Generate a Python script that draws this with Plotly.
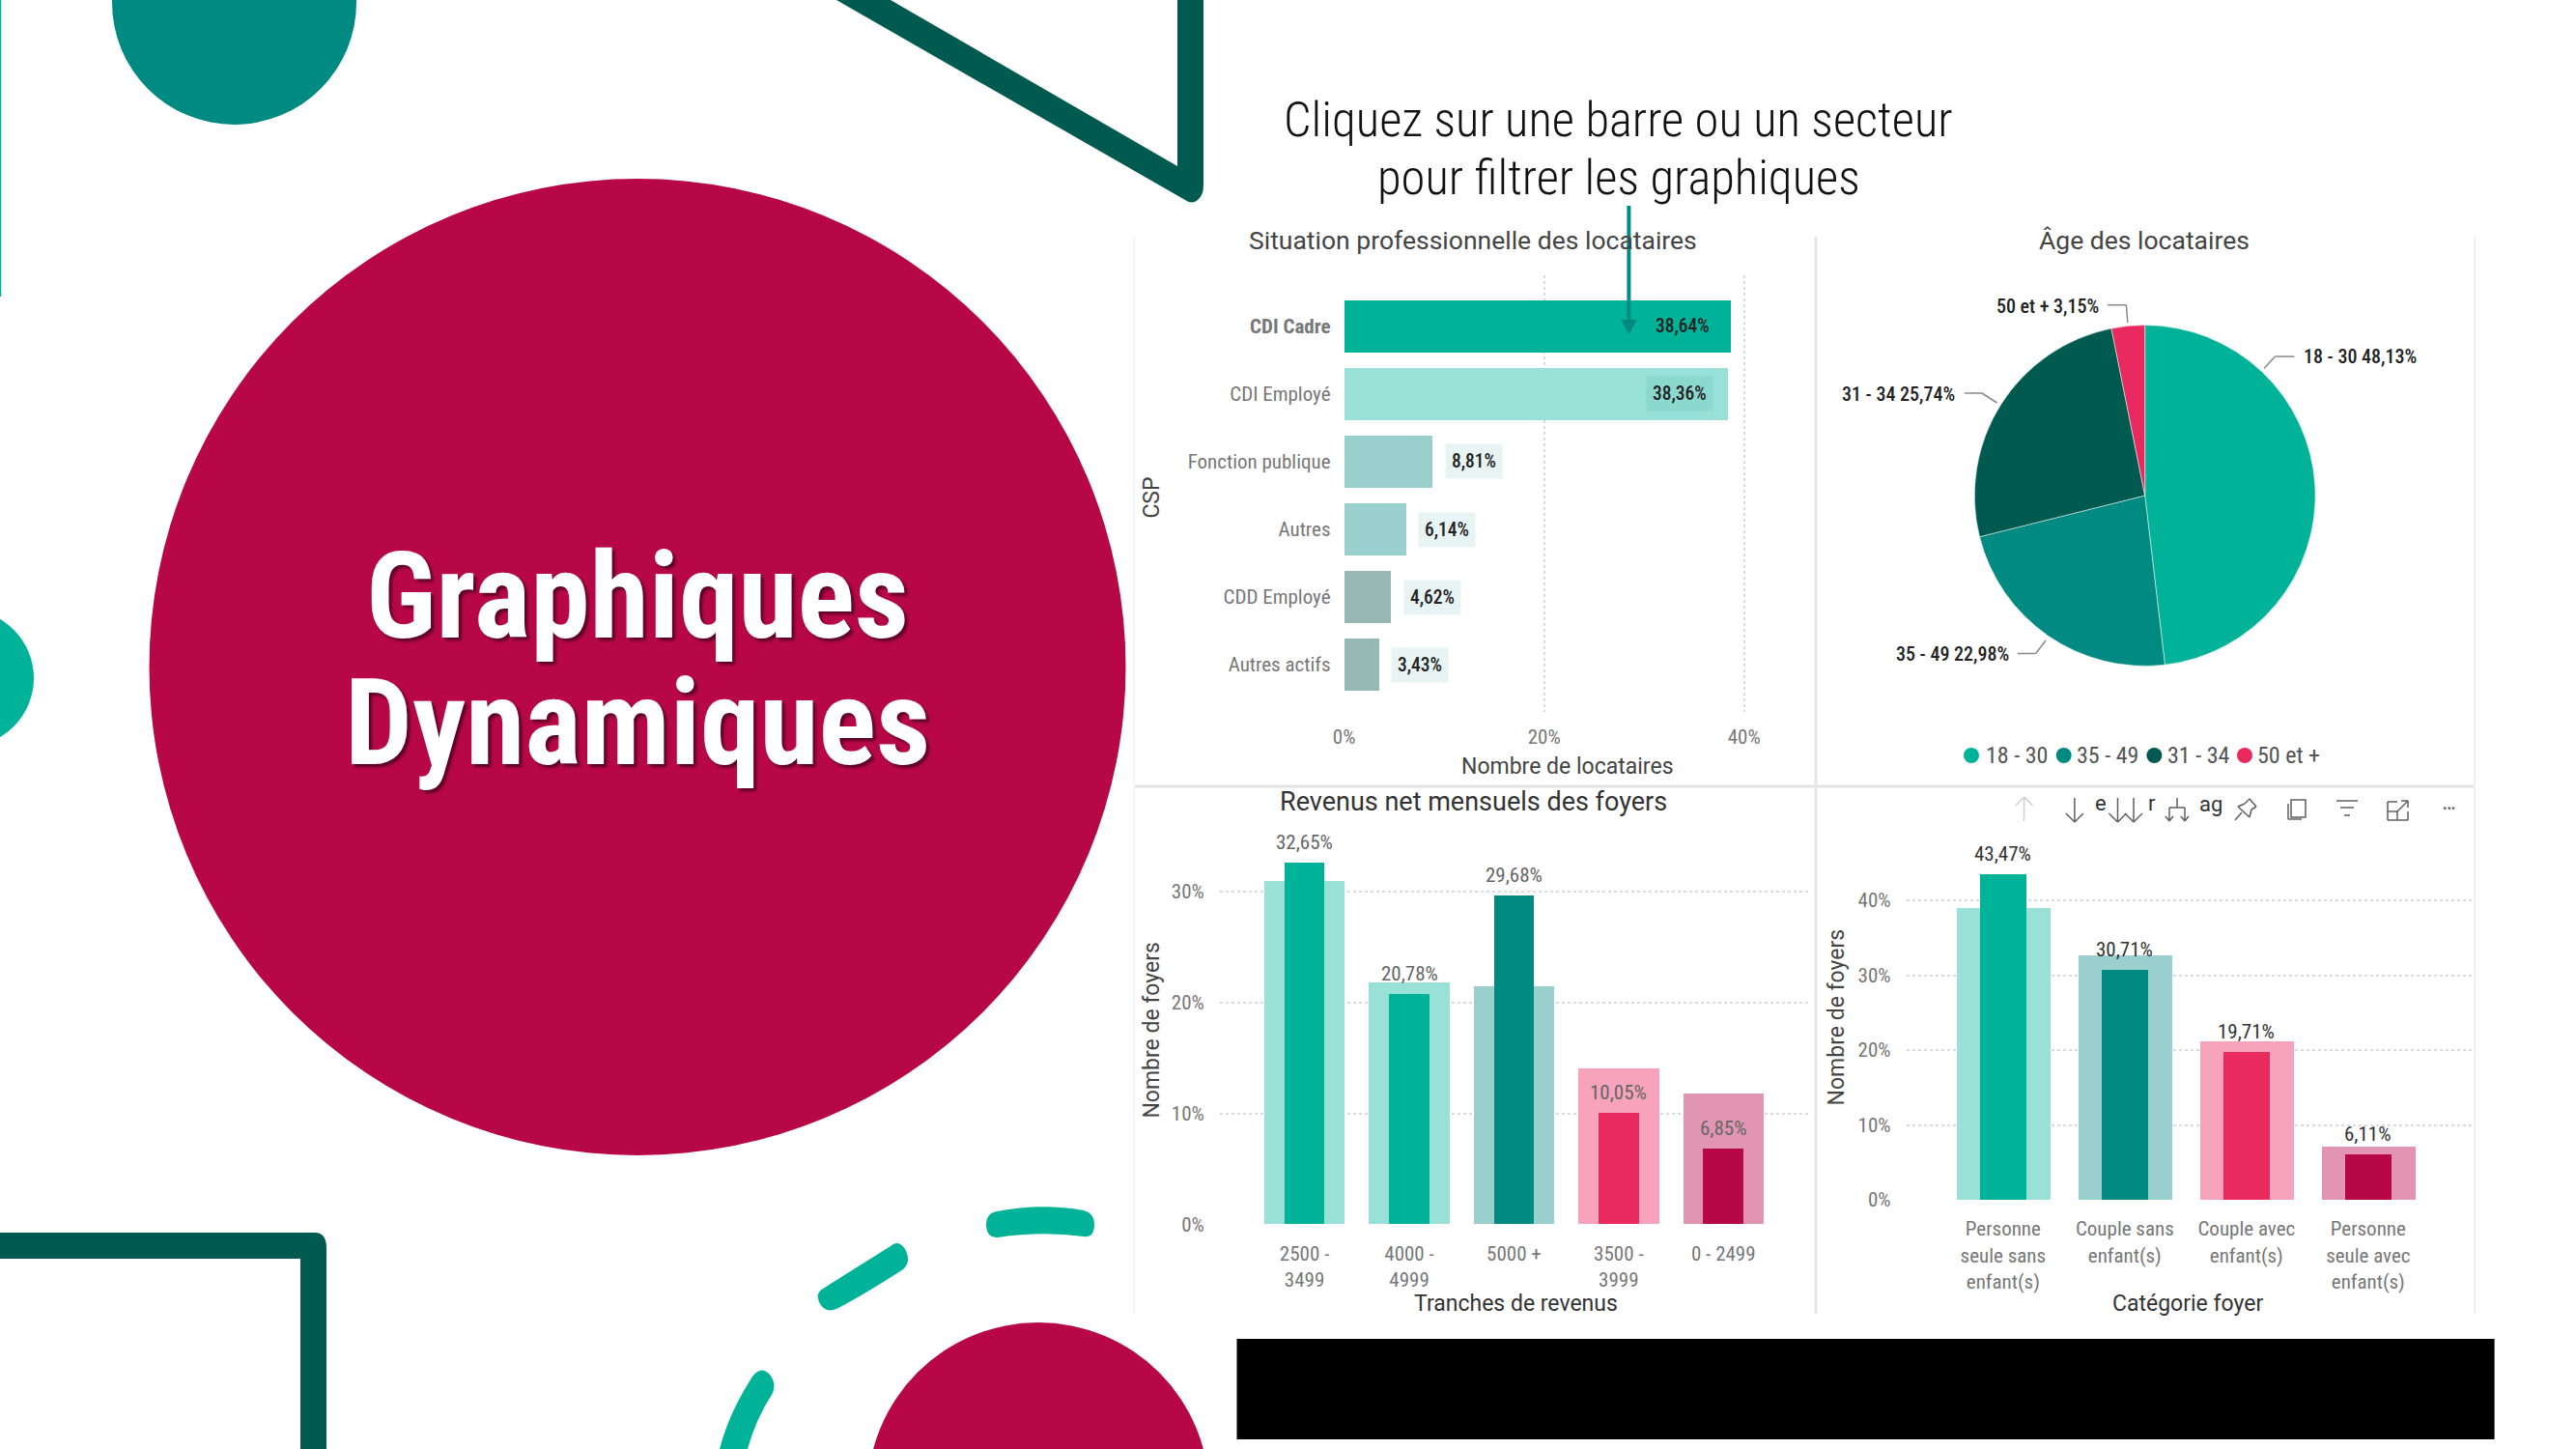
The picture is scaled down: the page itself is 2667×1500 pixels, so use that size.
import plotly.graph_objects as go

W, H = 2667, 1500

# values
csp_categories = ["CDI Cadre", "CDI Employé", "Fonction publique", "Autres", "CDD Employé", "Autres actifs"]
csp_values = [38.64, 38.36, 8.81, 6.14, 4.62, 3.43]
csp_colors = ["#00B398", "#99E1D6", "#99D0CD", "#99D0CD", "#97B7B3", "#97B9B6"]
csp_ticks = [0, 20, 40]

age_categories = ["18 - 30", "35 - 49", "31 - 34", "50 et +"]
age_values = [48.13, 22.98, 25.74, 3.15]
age_colors = ["#00B398", "#008A82", "#005A50", "#E92A5F"]

rev_categories = ["2500 - 3499", "4000 - 4999", "5000 +", "3500 - 3999", "0 - 2499"]
rev_ticktext = ["2500 -<br>3499", "4000 -<br>4999", "5000 +", "3500 -<br>3999", "0 - 2499"]
rev_total = [31.0, 21.8, 21.5, 14.1, 11.8]
rev_selected = [32.65, 20.78, 29.68, 10.05, 6.85]
rev_light = ["#99E1D6", "#99E1D6", "#99D0CD", "#F6A3BB", "#E195B3"]
rev_dark = ["#00B398", "#00B398", "#008A82", "#E92A5F", "#B70845"]
rev_ticks = [0, 10, 20, 30]

foyer_categories = ["Personne seule sans enfant(s)", "Couple sans enfant(s)", "Couple avec enfant(s)", "Personne seule avec enfant(s)"]
foyer_ticktext = ["Personne<br>seule sans<br>enfant(s)", "Couple sans<br>enfant(s)", "Couple avec<br>enfant(s)", "Personne<br>seule avec<br>enfant(s)"]
foyer_total = [39.0, 32.6, 21.2, 7.15]
foyer_selected = [43.47, 30.71, 19.71, 6.11]
foyer_light = ["#99E1D6", "#99D0CD", "#F6A3BB", "#E195B3"]
foyer_dark = ["#00B398", "#008A82", "#E92A5F", "#B70845"]
foyer_ticks = [0, 10, 20, 30, 40]

FONT = "Roboto Condensed, Roboto"
WIDE = "Roboto"
CRIMSON = "#B70845"
TEAL = "#00B398"
DARK = "#005A50"
MID = "#008A82"


def pct(v):
    return f"{v:.2f}%".replace(".", ",")


def dom_x(a, b):
    return [a / W, b / W]


def dom_y(top, bottom):
    return [1 - bottom / H, 1 - top / H]


fig = go.Figure()

# page-sized axes, 1 unit = 1 pixel, for the decoration and free text
fig.add_trace(go.Scatter(x=[None], y=[None], xaxis="x5", yaxis="y5", showlegend=False, hoverinfo="skip"))

# top left bars
fig.add_trace(go.Bar(
    y=csp_categories, x=csp_values, orientation="h", width=0.77,
    marker=dict(color=csp_colors, line_width=0), xaxis="x", yaxis="y", showlegend=False))

# pie
fig.add_trace(go.Pie(
    labels=age_categories, values=age_values, sort=False, direction="clockwise", rotation=0,
    marker=dict(colors=age_colors, line=dict(color="white", width=0.5)), textinfo="none",
    domain=dict(x=dom_x(2220.7 - 176.4, 2220.7 + 176.4), y=dom_y(513 - 176.4, 513 + 176.4)),
    showlegend=False))

# bottom bars: wide light bar with the filtered bar inside it
for cats, light, dark, total, sel, ax in [
    (rev_categories, rev_light, rev_dark, rev_total, rev_selected, "2"),
    (foyer_categories, foyer_light, foyer_dark, foyer_total, foyer_selected, "3"),
]:
    fig.add_trace(go.Bar(x=cats, y=total, width=0.77, marker=dict(color=light, line_width=0),
                         xaxis="x" + ax, yaxis="y" + ax, showlegend=False))
    fig.add_trace(go.Bar(x=cats, y=sel, width=0.385, marker=dict(color=dark, line_width=0),
                         xaxis="x" + ax, yaxis="y" + ax, showlegend=False))

shapes = []


def path(d, fill, layer="below"):
    shapes.append(dict(type="path", path=d, xref="x5", yref="y5", fillcolor=fill,
                       line_width=0, layer=layer))


def circle(cx, cy, r, fill, layer="below"):
    shapes.append(dict(type="circle", x0=cx - r, x1=cx + r, y0=cy - r, y1=cy + r, xref="x5", yref="y5",
                       fillcolor=fill, line_width=0, layer=layer))


def rule(x0, y0, x1, y1, color, width, layer="below"):
    shapes.append(dict(type="line", x0=x0, y0=y0, x1=x1, y1=y1, xref="x5", yref="y5",
                       line=dict(color=color, width=width), layer=layer))


def polyline(pts, color, width):
    for a, b in zip(pts, pts[1:]):
        rule(a[0], a[1], b[0], b[1], color, width)


# decoration
rule(0.5, 0, 0.5, 307, TEAL, 1.5)
circle(242.5, 2.5, 126.5, MID)
circle(660, 690.5, 505.5, CRIMSON)
circle(-35.6, 702, 70.6, TEAL)
circle(1075, 1546, 177, CRIMSON)
path("M866,0 L1227,207 Q1234,212 1240,207 Q1246,202 1246,192 L1246,0 L1219,0 L1219,172 L922,0 Z", DARK)
path("M0,1276 L326,1276 Q338,1276 338,1292 L338,1500 L311,1500 L311,1303 L0,1303 Z", DARK)
path("M1032,1254 Q1078,1245 1122,1253 Q1133,1256 1133,1267 Q1133,1282 1122,1280 Q1078,1274 1033,1281 Q1021,1282 1021,1267 Q1021,1256 1032,1254 Z", TEAL)
path("M922,1290 Q930,1283 937,1293 Q944,1306 935,1314 Q895,1340 866,1355 Q854,1360 848,1348 Q844,1338 852,1334 Q890,1310 922,1290 Z", TEAL)
path("M779,1425 Q788,1413 797,1423 Q804,1432 800,1442 Q782,1470 774,1500 L745,1500 Q755,1462 779,1425 Z", TEAL)
shapes.append(dict(type="rect", x0=1280.5, x1=2582.6, y0=1386, y1=1490, xref="x5", yref="y5",
                   fillcolor="black", line_width=0, layer="below"))

# panel dividers
rule(1880, 245, 1880, 1360, "#E4E4E4", 3)
rule(1174, 814, 2562, 814, "#E4E4E4", 3)
rule(2562, 245, 2562, 1360, "#EFEFEF", 2)
rule(1174, 245, 1174, 1360, "#F6F6F6", 2)

# pie legend markers
legend_marker_x = [2041, 2136.7, 2230.4, 2324]
legend_text_x = [2054, 2148, 2241.6, 2335]
for c, x in zip(age_colors, legend_marker_x):
    circle(x, 782, 8, c)

# pie leader lines
polyline([(2344, 381.5), (2355.4, 369), (2375.5, 369)], "#8A8A8A", 1.5)
polyline([(2034, 407), (2052, 407), (2067.5, 417)], "#8A8A8A", 1.5)
polyline([(2089, 676.5), (2107.7, 676.5), (2118, 663)], "#8A8A8A", 1.5)
polyline([(2182, 315.7), (2201.4, 315.7), (2202.8, 334)], "#8A8A8A", 1.5)

# arrow under the caption
rule(1686.4, 213, 1686.4, 333, MID, 4, layer="above")
path("M1678,331 L1695,331 L1686.4,346 Z", MID, layer="above")

# visual header icons of the last panel
ICON = "#5F5F5F"
for x, c, up in [(2095.6, "#CFCFCF", True), (2147.9, ICON, False), (2192.5, ICON, False), (2209, ICON, False)]:
    tip, tail = (825, 850) if up else (851, 826)
    barb = 9 if up else -9
    polyline([(x - 9, tip + barb), (x, tip), (x + 9, tip + barb)], c, 1.5)
    rule(x, tip, x, tail, c, 1.5)
# expand all down
polyline([(2254, 826), (2254, 836), (2246, 836), (2246, 849)], ICON, 1.5)
polyline([(2254, 836), (2262, 836), (2262, 849)], ICON, 1.5)
polyline([(2242, 845), (2246, 850), (2250, 845)], ICON, 1.5)
polyline([(2258, 845), (2262, 850), (2266, 845)], ICON, 1.5)
# pin
polyline([(2329, 827), (2336, 835), (2331, 838), (2329, 846), (2317, 835), (2324, 832), (2329, 827)], ICON, 1.5)
rule(2321, 841, 2314, 849, ICON, 1.5)
# copy
shapes.append(dict(type="rect", x0=2372, x1=2387, y0=828, y1=846, xref="x5", yref="y5",
                   line=dict(color=ICON, width=1.5), layer="below"))
polyline([(2369, 832), (2369, 848), (2383, 848)], ICON, 1.5)
# filter
rule(2419, 829, 2441, 829, ICON, 1.5)
rule(2423, 836, 2437, 836, ICON, 1.5)
rule(2427, 844, 2433, 844, ICON, 1.5)
# focus mode
polyline([(2482, 830), (2472, 830), (2472, 849), (2493, 849), (2493, 840)], ICON, 1.5)
polyline([(2472, 840), (2482, 840), (2482, 849)], ICON, 1.5)
polyline([(2486, 829), (2493, 829), (2493, 836)], ICON, 1.5)
rule(2481, 841, 2493, 829, ICON, 1.5)

annotations = []


def text(x, y, s, size, color="#444444", font=FONT, anchor="center", valign="middle", **kw):
    annotations.append(dict(x=x, y=y, xref="x5", yref="y5", text=s, showarrow=False,
                            xanchor=anchor, yanchor=valign,
                            font=dict(family=font, size=size, color=color, **kw)))


# main title and caption
SHADOW = "3px 3px 3px rgba(60,0,25,0.75)"
text(660, 617, "Graphiques", 124, "white", weight="bold", shadow=SHADOW)
text(660, 748, "Dynamiques", 124, "white", weight="bold", shadow=SHADOW)
text(1675.5, 123, "Cliquez sur une barre ou un secteur", 50.6, "#111111", weight=300)
text(1675.5, 183, "pour filtrer les graphiques", 50.6, "#111111", weight=300)

# panel titles
text(1525, 248, "Situation professionnelle des locataires", 26.5, "#444444", font=WIDE)
text(2220.4, 248, "Âge des locataires", 26.5, "#444444", font=WIDE)
text(1525.8, 830, "Revenus net mensuels des foyers", 27, "#333333", font=WIDE)

# axis titles
text(1622.5, 793, "Nombre de locataires", 23, "#444444", font=WIDE)
text(1569, 1349, "Tranches de revenus", 23, "#333333", font=WIDE)
text(2264.6, 1349, "Catégorie foyer", 23, "#333333", font=WIDE)
for x, y, s in [(1191.6, 515, "CSP"), (1191.6, 1066, "Nombre de foyers"), (1901.4, 1053, "Nombre de foyers")]:
    annotations.append(dict(x=x, y=y, xref="x5", yref="y5", text=s, showarrow=False, textangle=-90,
                            font=dict(family=WIDE, size=23, color="#444444")))

# pie labels
for x, y, i in [(2383, 369, 0), (2081.8, 677, 1), (2026.4, 407.5, 2), (2174.6, 317, 3)]:
    text(x, y, f"{age_categories[i]} {pct(age_values[i])}", 20, "#222222",
         anchor="left" if i == 0 else "right", weight=500)

# pie legend text
for x, s in zip(legend_text_x, age_categories):
    text(x, 782, s, 24, "#555555", anchor="left")

# data labels of the top left bars, on a pale chip except on the selected bar
for i, (cat, v) in enumerate(zip(csp_categories, csp_values)):
    annotations.append(dict(
        x=v, y=cat, xref="x", yref="y", text=pct(v), showarrow=False, xshift=-50 if v > 30 else 43,
        bgcolor="rgba(0,0,0,0)" if i == 0 else "rgba(0,138,130,0.09)", borderpad=6,
        font=dict(family=FONT, size=19.5, color="#222222", weight=500)))

# data labels of the bottom bars
for cats, vals, xa, ya, color in [
    (rev_categories, rev_selected, "x2", "y2", "#666666"),
    (foyer_categories, foyer_selected, "x3", "y3", "#333333"),
]:
    for cat, v in zip(cats, vals):
        annotations.append(dict(x=cat, y=v, xref=xa, yref=ya, text=pct(v), showarrow=False, yshift=21,
                                font=dict(family=FONT, size=21, color=color)))

# header glyphs, real text
for x, y, s, size in [(2174.6, 831, "e", 22), (2228, 831, "r", 22), (2288.5, 832, "ag", 22)]:
    text(x, y, s, size, "#333333", font=WIDE)
text(2535.4, 836, "•••", 13, "#666666", font=WIDE)

GRID = dict(showgrid=True, gridcolor="#DADADA", griddash="dot", gridwidth=1.5, zeroline=False, showline=False)
TICK_FONT = dict(family=FONT, size=21, color="#777777")
TICKS = dict(ticks="outside", ticklen=11, tickcolor="rgba(0,0,0,0)", tickfont=TICK_FONT)
HIDE = dict(showgrid=False, zeroline=False, showline=False)

layout_axes = dict(
    xaxis=dict(domain=dom_x(1391.7, 1850), range=[0, (1850 - 1391.7) / 10.35], anchor="y",
               tickvals=csp_ticks, ticktext=[f"{t}%" for t in csp_ticks], **GRID,
               ticks="outside", ticklen=7, tickcolor="rgba(0,0,0,0)", tickfont=TICK_FONT),
    yaxis=dict(domain=dom_y(285, 737), range=[5.7, -0.757], anchor="x", type="category", **HIDE,
               categoryorder="array", categoryarray=csp_categories,
               tickvals=csp_categories,
               ticktext=["<b>CDI Cadre</b>"] + csp_categories[1:],
               ticks="outside", ticklen=9, tickcolor="rgba(0,0,0,0)", tickfont=TICK_FONT),
    xaxis2=dict(domain=dom_x(1263, 1875), range=[-0.808, 4.837], anchor="y2", type="category",
                categoryorder="array", categoryarray=rev_categories,
                tickvals=rev_categories, ticktext=rev_ticktext, **HIDE, **TICKS),
    yaxis2=dict(domain=dom_y(860, 1267.3), range=[0, 35.5], anchor="x2",
                tickvals=rev_ticks, ticktext=[f"{t}%" for t in rev_ticks], **GRID, **TICKS),
    xaxis3=dict(domain=dom_x(1973.8, 2560.8), range=[-0.794, 3.865], anchor="y3", type="category",
                categoryorder="array", categoryarray=foyer_categories,
                tickvals=foyer_categories, ticktext=foyer_ticktext, **HIDE, **TICKS),
    yaxis3=dict(domain=dom_y(860, 1242), range=[0, 49.3], anchor="x3",
                tickvals=foyer_ticks, ticktext=[f"{t}%" for t in foyer_ticks], **GRID, **TICKS),
    xaxis5=dict(domain=[0, 1], range=[0, W], anchor="y5", visible=False, fixedrange=True),
    yaxis5=dict(domain=[0, 1], range=[H, 0], anchor="x5", visible=False, fixedrange=True),
)

fig.update_layout(
    template="none",
    width=W, height=H, autosize=False,
    margin=dict(l=0, r=0, t=0, b=0, pad=0),
    paper_bgcolor="white", plot_bgcolor="rgba(0,0,0,0)",
    barmode="overlay", bargap=0,
    shapes=shapes, annotations=annotations,
    **layout_axes,
)
fig.update_xaxes(automargin=False)
fig.update_yaxes(automargin=False)

fig.write_html("out.html", post_script="document.body.style.margin='0';document.body.style.overflow='hidden';",
               config=dict(displayModeBar=False))
